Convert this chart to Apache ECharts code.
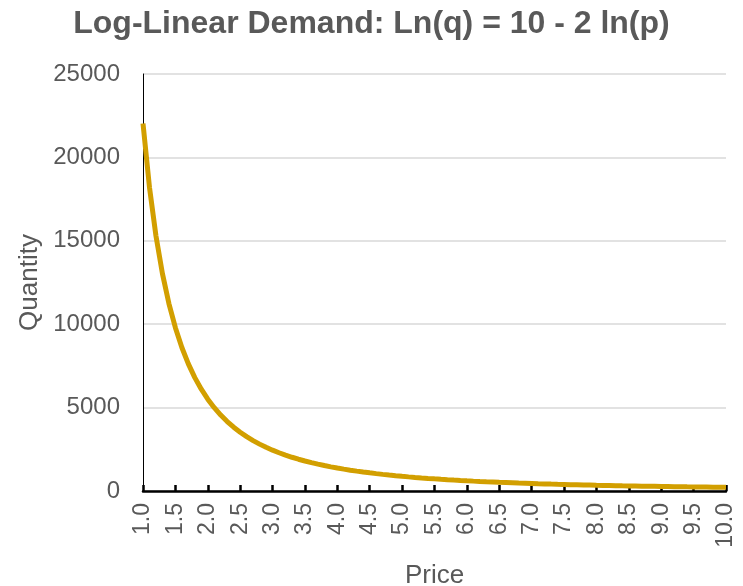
<!DOCTYPE html>
<html>
<head>
<meta charset="utf-8">
<script src="https://cdn.jsdelivr.net/npm/echarts@6/dist/echarts.min.js"></script>
<style>html,body{margin:0;padding:0;background:#fff}#c{width:743px;height:586px}</style>
</head>
<body>
<div id="c"></div>
<script>
const prices = ['1.0','1.1','1.2','1.3','1.4','1.5','1.6','1.7','1.8','1.9',
'2.0','2.1','2.2','2.3','2.4','2.5','2.6','2.7','2.8','2.9',
'3.0','3.1','3.2','3.3','3.4','3.5','3.6','3.7','3.8','3.9',
'4.0','4.1','4.2','4.3','4.4','4.5','4.6','4.7','4.8','4.9',
'5.0','5.1','5.2','5.3','5.4','5.5','5.6','5.7','5.8','5.9',
'6.0','6.1','6.2','6.3','6.4','6.5','6.6','6.7','6.8','6.9',
'7.0','7.1','7.2','7.3','7.4','7.5','7.6','7.7','7.8','7.9',
'8.0','8.1','8.2','8.3','8.4','8.5','8.6','8.7','8.8','8.9',
'9.0','9.1','9.2','9.3','9.4','9.5','9.6','9.7','9.8','9.9','10.0'];
const quantity = [22026,18204,15296,13033,11238,9790,8604,7622,6798,6101,
5507,4995,4551,4164,3824,3524,3258,3021,2810,2619,
2447,2292,2151,2023,1905,1798,1700,1609,1525,1448,
1377,1310,1249,1191,1138,1088,1041,997,956,917,
881,847,815,784,755,728,702,678,655,633,
612,592,573,555,538,521,506,491,476,463,
450,437,425,413,402,392,381,372,362,353,
344,336,328,320,312,305,298,291,284,278,
272,266,260,255,249,244,239,234,229,225,220];
const yTicks = [0,5000,10000,15000,20000,25000];

const chart = echarts.init(document.getElementById('c'), null, {renderer:'canvas'});
const txt = '#595959';
const ff = '"Liberation Sans", Arial, sans-serif';
chart.setOption({
  animation:false,
  backgroundColor:'#fff',
  title:{text:'Log-Linear Demand: Ln(q) = 10 - 2 ln(p)', left:'center', top:3,
    textStyle:{fontFamily:ff, fontSize:32, fontWeight:'bold', color:txt}},
  grid:{left:143, right:17, top:74, bottom:95, containLabel:false, outerBoundsMode:'none'},
  xAxis:{type:'category', data:prices, boundaryGap:false,
    name:'Price', nameLocation:'middle', nameGap:72,
    nameTextStyle:{fontFamily:ff, fontSize:26, color:txt},
    axisLine:{lineStyle:{color:'#000', width:2.5}},
    axisTick:{show:true, inside:true, length:6, interval:4, lineStyle:{color:'#000', width:2.5}},
    axisLabel:{interval:4, rotate:90, margin:12, fontFamily:ff, fontSize:23, color:txt},
    splitLine:{show:false}},
  yAxis:{type:'value', min:yTicks[0], max:yTicks[yTicks.length-1], interval:5000,
    name:'Quantity', nameLocation:'middle', nameGap:98,
    nameTextStyle:{fontFamily:ff, fontSize:26, color:txt},
    axisLine:{show:true, lineStyle:{color:'#000', width:1}},
    axisTick:{show:false},
    axisLabel:{margin:23, fontFamily:ff, fontSize:24, color:txt, formatter:function(v){return String(v);}},
    splitLine:{lineStyle:{color:'#d9d9d9', width:1.5}}},
  series:[{type:'line', data:quantity, showSymbol:false, smooth:false,
    lineStyle:{color:'#D29F00', width:5}, itemStyle:{color:'#D29F00'}}]
});
</script>
</body>
</html>
